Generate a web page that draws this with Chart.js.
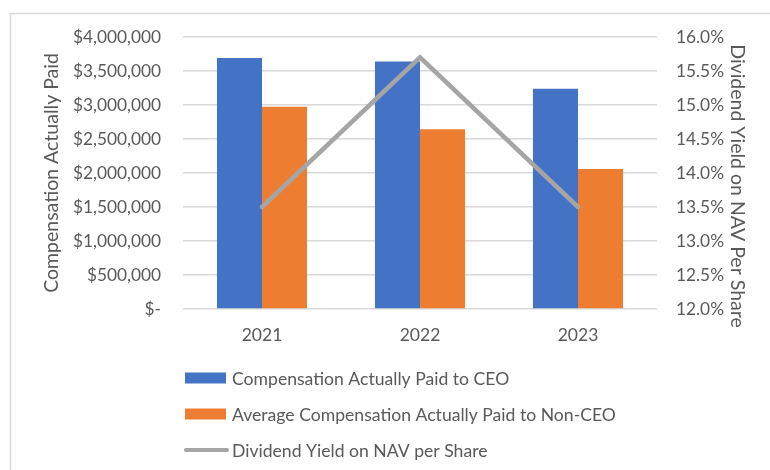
<!DOCTYPE html>
<html>
<head>
<meta charset="utf-8">
<script src="https://cdn.jsdelivr.net/npm/chart.js@4.4.1/dist/chart.umd.min.js"></script>
<style>
  html, body { margin: 0; padding: 0; background: #ffffff; }
  #wrap { width: 770px; height: 470px; position: relative; }
</style>
</head>
<body>
<div id="wrap"><canvas id="c" width="770" height="470"></canvas></div>
<script>
const categories = ['2021', '2022', '2023'];
const ceoPaid = [3690000, 3640000, 3240000];
const nonCeoPaid = [2975000, 2645000, 2060000];
const dividendYield = [13.5, 15.7, 13.5];
const seriesNames = [
  'Compensation Actually Paid to CEO',
  'Average Compensation Actually Paid to Non-CEO',
  'Dividend Yield on NAV per Share'
];
const leftAxisTitle = 'Compensation Actually Paid';
const rightAxisTitle = 'Dividend Yield on NAV Per Share';

const FONT = 'Lato, "Open Sans", sans-serif';
const TXT = '#595959';
const GRID = '#d9d9d9';

const framePlugin = {
  id: 'frame',
  beforeDraw(chart) {
    const ctx = chart.ctx;
    ctx.save();
    ctx.fillStyle = '#ffffff';
    ctx.fillRect(0, 0, chart.width, chart.height);
    ctx.strokeStyle = GRID;
    ctx.lineWidth = 1.5;
    ctx.strokeRect(10.5, 13.5, chart.width + 20, chart.height + 20);
    ctx.restore();
  }
};

const rightTitlePlugin = {
  id: 'rightTitle',
  afterDraw(chart) {
    const ctx = chart.ctx;
    const sc = chart.scales.y1;
    ctx.save();
    ctx.font = '19.5px ' + FONT;
    ctx.fillStyle = TXT;
    ctx.textAlign = 'center';
    ctx.textBaseline = 'middle';
    ctx.translate(sc.right - 21, (sc.top + sc.bottom) / 2 + 13);
    ctx.rotate(Math.PI / 2);
    ctx.fillText(rightAxisTitle, 0, 0);
    ctx.restore();
  }
};

const legendPlugin = {
  id: 'stackLegend',
  afterDraw(chart) {
    const ctx = chart.ctx;
    const x0 = 185, textX = 232;
    const rows = [378, 414, 450];
    const order = [0, 1, 2];
    ctx.save();
    ctx.font = '17.6px ' + FONT;
    ctx.fillStyle = TXT;
    ctx.textBaseline = 'middle';
    ctx.textAlign = 'left';
    order.forEach((di, i) => {
      const ds = chart.data.datasets[di];
      const y = rows[i];
      if (ds.type === 'line') {
        ctx.strokeStyle = ds.borderColor;
        ctx.lineWidth = 4;
        ctx.lineCap = 'round';
        ctx.beginPath();
        ctx.moveTo(x0 + 1, y);
        ctx.lineTo(x0 + 42, y);
        ctx.stroke();
      } else {
        ctx.fillStyle = ds.backgroundColor;
        ctx.fillRect(x0, y - 5.5, 41, 11);
      }
      ctx.fillStyle = TXT;
      ctx.fillText(ds.label, textX, y + 1);
    });
    ctx.restore();
  }
};

const ctx = document.getElementById('c').getContext('2d');
new Chart(ctx, {
  data: {
    labels: categories,
    datasets: [
      {
        type: 'bar',
        label: seriesNames[0],
        data: ceoPaid,
        backgroundColor: '#4472C4',
        yAxisID: 'y',
        order: 2,
        barPercentage: 1.0,
        categoryPercentage: 0.57
      },
      {
        type: 'bar',
        label: seriesNames[1],
        data: nonCeoPaid,
        backgroundColor: '#ED7D31',
        yAxisID: 'y',
        order: 2,
        barPercentage: 1.0,
        categoryPercentage: 0.57
      },
      {
        type: 'line',
        label: seriesNames[2],
        data: dividendYield,
        borderColor: '#A5A5A5',
        backgroundColor: '#A5A5A5',
        borderWidth: 4.5,
        borderCapStyle: 'round',
        pointRadius: 0,
        tension: 0,
        yAxisID: 'y1',
        order: 1
      }
    ]
  },
  options: {
    responsive: false,
    animation: false,
    devicePixelRatio: 1,
    layout: { padding: { left: 30, right: 12, top: 37, bottom: 121 } },
    plugins: {
      legend: { display: false },
      tooltip: { enabled: false },
      title: { display: false }
    },
    scales: {
      x: {
        grid: { display: false },
        border: { display: false },
        ticks: { color: TXT, font: { family: FONT, size: 17.5 }, padding: 8 },
        afterFit(scale) { scale.height = 40; }
      },
      y: {
        position: 'left',
        min: 0,
        max: 4000000,
        grid: { color: GRID, lineWidth: 1.5, drawTicks: false },
        border: { display: false },
        ticks: {
          stepSize: 500000,
          color: TXT,
          padding: 22,
          font: { family: FONT, size: 17.3 },
          callback: (v) => v === 0 ? '$-' : '$' + v.toLocaleString('en-US')
        },
        title: {
          display: true,
          text: leftAxisTitle,
          color: TXT,
          font: { family: FONT, size: 19.5 },
          padding: { top: 10, bottom: 0 }
        },
        afterFit(scale) { scale.width = 153; }
      },
      y1: {
        position: 'right',
        min: 12,
        max: 16,
        grid: { display: false, drawTicks: false },
        border: { display: false },
        ticks: {
          stepSize: 0.5,
          color: TXT,
          padding: 19,
          font: { family: FONT, size: 17.3 },
          callback: (v) => v.toFixed(1) + '%'
        },
        title: { display: false },
        afterFit(scale) { scale.width = 101; }
      }
    }
  },
  plugins: [framePlugin, rightTitlePlugin, legendPlugin]
});
</script>
</body>
</html>
